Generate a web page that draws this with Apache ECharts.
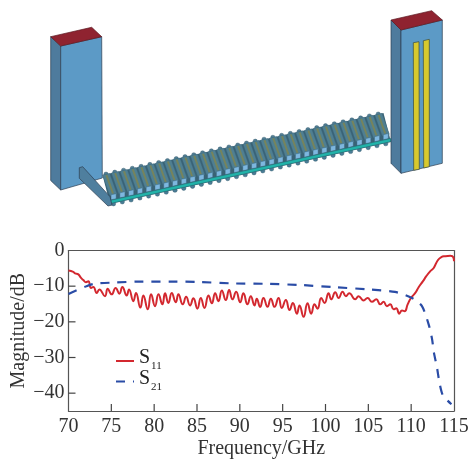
<!DOCTYPE html>
<html><head><meta charset="utf-8">
<style>html,body{margin:0;padding:0;background:#fff}#c{width:469px;height:459px}</style>
<script src="https://cdn.jsdelivr.net/npm/echarts@6/dist/echarts.min.js"></script>
</head><body><div id="c"></div>
<script>
const s11Freq = [70,70.56,70.76,71.15,71.46,71.73,72.04,72.32,72.63,72.9,73.29,73.6,74.26,74.57,75.04,75.5,75.94,76.29,76.79,77.07,77.57,77.88,78.39,78.74,79.25,79.64,80.1,80.5,80.96,81.27,81.66,82.05,82.52,82.83,83.34,83.73,84.19,84.58,85.05,85.44,85.87,86.34,86.73,87.12,87.5,87.9,88.36,88.75,89.14,89.57,90.04,90.42,90.89,91.28,91.71,91.98,92.37,92.76,93.23,93.62,94.05,94.52,94.9,95.37,95.8,96.19,96.66,96.97,97.44,97.9,98.33,98.72,99.07,99.5,99.89,100.36,100.67,101.14,101.53,102,102.38,102.77,103.47,103.86,104.45,104.91,105.42,105.93,106.39,106.78,107.17,107.56,107.95,108.26,108.61,108.93,109.24,109.59,109.98,110.48,110.87,111.38,111.77,112.24,112.63,113.09,113.48,113.99,114.57,114.92,115];
const s11Vals = [-5.6,-6,-6.4,-6.7,-7.7,-8.3,-8.9,-8.6,-10.5,-10.2,-11.9,-10.9,-12.8,-10.7,-12.3,-10.5,-12.1,-10.2,-12.6,-10.9,-14.2,-11.9,-16,-12.6,-16.5,-12.3,-15.6,-12.3,-15.1,-12,-14.7,-11.9,-14.5,-12.3,-15.1,-13,-15.4,-13.4,-16.3,-13.3,-16.1,-12.6,-14.8,-12,-14.2,-11.2,-13.9,-11.1,-13.7,-11.6,-14.5,-12,-15.1,-12.8,-15.4,-13.5,-15.8,-13.3,-15.8,-13.5,-15.8,-13.3,-16.1,-13.9,-16.7,-14.7,-17.7,-15.4,-18.6,-14.8,-17.7,-15.1,-16.3,-13.3,-14.7,-12,-13.7,-11.7,-13.3,-11.6,-12.8,-12,-13.7,-12.8,-14,-13.3,-14.4,-13.7,-15.1,-14.4,-15.6,-15.1,-16.5,-16.2,-17.7,-16.8,-17,-15.1,-13.3,-11.9,-10.3,-8.6,-7.2,-5.8,-4.9,-2.8,-1.9,-1.6,-1.5,-1.9,-3];
const s21Freq = [70,70.7,72.1,73.07,75.2,78.7,82,85,89.45,93.3,97.24,101.1,105,108.1,110.1,111.26,112.04,112.43,112.66,113,113.3,113.7,114.7];
const s21Vals = [-12.2,-11.4,-10,-9.3,-9,-8.7,-8.7,-8.8,-9.25,-9.35,-9.7,-10.3,-10.9,-11.6,-13.3,-15.6,-20.7,-24.7,-28.7,-32.6,-37,-40.6,-43.1];
const yTicks = [-10,-20,-30,-40];
const yLabels = [0,-10,-20,-30,-40];
const xTicks = [75,80,85,90,95,100,105,110];

const FONT = '"Liberation Serif", serif';
const pair = (xs, ys) => xs.map((x, i) => [x, ys[i]]);

// Non-data illustration of the device above the plot
function poly(points, fill, stroke, lw) {
  return { type: 'polygon', silent: true, shape: { points },
    style: { fill, stroke: stroke || 'none', lineWidth: lw === undefined ? 0.7 : lw } };
}
function dot(p, r, fill, stroke) {
  return { type: 'circle', silent: true, shape: { cx: p[0], cy: p[1], r }, style: { fill, stroke, lineWidth: .4 } };
}
function tower(top, front, left) {
  return [poly(left, '#4e7b9d', '#2c3e50'), poly(front, '#5c9ac6', '#2c3e50'), poly(top, '#8f2330', '#5c1a22')];
}
function comb() {
  const out = [], N = 32, F = [110, 196], U = [281, -62], V = [-7.5, -21];
  const P = (u, v, dy) => [F[0] + u * U[0] + v * V[0], F[1] + u * U[1] + v * V[1] + (dy || 0)];
  const q = (u0, u1, v0, v1) => [P(u0, v0), P(u1, v0), P(u1, v1), P(u0, v1)];
  const d = 1 / N;
  for (let i = 0; i < N; i++) {
    out.push(dot(P((i + .4) * d, 1), 2.2, '#527f95', '#2f5568'));
    out.push(dot(P((i + .4) * d, 0, 8.5), 2.2, '#4a7d96', '#2f5568'));
  }
  out.push(poly([P(0, 1), P(1, 1), P(1, 0, 8), P(0, 0, 8)], '#3a6376'));
  for (let i = 0; i < N; i++) {
    const a = i * d;
    out.push(poly(q(a, a + d * .82, 0, 1), '#4f7f92', '#3a6376', .3));
    out.push(poly(q(a + d * .3, a + d * .52, .08, .96), '#76845c'));
    out.push(poly([P(a + d * .12, 0, -1), P(a + d * .7, 0, -1), P(a + d * .7, 0, 4), P(a + d * .12, 0, 4)], '#7db7df', '#3a6376', .4));
  }
  out.push(poly([P(0, 0, 4.5), P(1, 0, 4.5), P(1, 0, 7.5), P(0, 0, 7.5)], '#22b3aa', '#1f6f72', .4));
  return out;
}
const picture = [
  ...tower([[50.7,36.7],[91.7,27.3],[101.7,36.7],[60.7,46]],
           [[60.7,46],[101.7,36.7],[102.3,178],[60.7,190]],
           [[50.7,36.7],[60.7,46],[60.7,190],[50.7,180.5]]),
  ...comb(),
  poly([[79.3,167.7],[82.7,166.7],[110,196.7],[112,205],[108,206],[79.3,178.3]], '#4f7f9e', '#2c3e50'),
  ...tower([[391,20],[431.7,10.7],[442.3,20],[401,30]],
           [[401,30],[442.3,20],[442.3,163.3],[401,173.3]],
           [[391,20],[401,30],[401,173.3],[391,163.3]]),
  poly([[413.3,42.7],[419,41.7],[419.3,169.3],[413.7,170.3]], '#d8c92e', '#3a4a40'),
  poly([[423.3,40.7],[429.3,39.3],[429.3,166.7],[423.7,168]], '#d8c92e', '#3a4a40')
];

const LINE = '#555';
const TICK_LEN = 7;
const axisLine = { show: true, onZero: false, lineStyle: { color: LINE, width: 1.2 } };
const frameAxis = { type: 'value', axisLine, axisTick: { show: false }, axisLabel: { show: false }, splitLine: { show: false } };
const chart = echarts.init(document.getElementById('c'));
chart.setOption({
  animation: false,
  backgroundColor: '#fff',
  grid: { left: 68.5, top: 250.5, width: 385.5, height: 160.5, outerBoundsMode: 'none', containLabel: false, show: false },
  legend: {
    orient: 'vertical', left: 115, top: 348, padding: 0, itemWidth: 18, itemHeight: 12, itemGap: -5.5,
    data: ['S11', 'S21'],
    itemStyle: { color: 'transparent', borderWidth: 0, opacity: 0 },
    formatter: n => '{s|S}{n|' + n.slice(1) + '}',
    textStyle: { color: '#222', fontFamily: FONT,
      rich: {
        s: { fontFamily: FONT, fontSize: 20, color: '#222', lineHeight: 26, verticalAlign: 'top' },
        n: { fontFamily: FONT, fontSize: 11, color: '#222', lineHeight: 26, verticalAlign: 'bottom', padding: [0, 0, 2, 1] }
      } }
  },
  xAxis: [{
    type: 'value', min: 70, max: 115, interval: 5, position: 'bottom',
    name: 'Frequency/GHz', nameLocation: 'middle', nameGap: 28, nameMoveOverlap: false,
    nameTextStyle: { fontFamily: FONT, fontSize: 20, color: '#333' },
    axisLine, axisTick: { show: false },
    axisLabel: { fontFamily: FONT, fontSize: 20, color: '#333', margin: 6, hideOverlap: false },
    splitLine: { show: false }
  }, { ...frameAxis, min: 70, max: 115, position: 'top' }],
  yAxis: [{
    type: 'value', min: -45, max: 0, position: 'left',
    name: 'Magnitude/dB', nameLocation: 'middle', nameGap: 40, nameRotate: 90, nameMoveOverlap: false,
    nameTextStyle: { fontFamily: FONT, fontSize: 20, color: '#333' },
    axisLine, axisTick: { show: false },
    axisLabel: { fontFamily: FONT, fontSize: 20, color: '#333', margin: 4, padding: [3, 0, 0, 0], customValues: yLabels,
      formatter: v => v < 0 ? '\u2212' + Math.abs(v) : String(v) },
    splitLine: { show: false }
  }, { ...frameAxis, min: -45, max: 0, position: 'right' }],
  series: [
    { name: 'S11', type: 'line', data: pair(s11Freq, s11Vals), showSymbol: false, symbol: 'none', smooth: 0.5,
      lineStyle: { color: '#d3282f', width: 2 }, itemStyle: { color: '#d3282f' } },
    { name: 'S21', type: 'line', data: pair(s21Freq, s21Vals), showSymbol: false, symbol: 'none', smooth: 0.25,
      lineStyle: { color: '#2a4ca6', width: 2.2, type: [9, 8] }, itemStyle: { color: '#2a4ca6' } }
  ]
});
// Inward ticks positioned through the axes' own scales
const toPx = v => chart.convertToPixel({ xAxisIndex: 0, yAxisIndex: 0 }, v);
const tickLine = (p, dx, dy) => ({ type: 'line', silent: true, z: 50,
  shape: { x1: p[0], y1: p[1], x2: p[0] + dx, y2: p[1] + dy },
  style: { stroke: '#444', lineWidth: 1.2, fill: 'none' } });
const ticks = [
  ...xTicks.map(v => tickLine(toPx([v, -45]), 0, -TICK_LEN)),
  ...yTicks.map(v => tickLine(toPx([70, v]), TICK_LEN, 0))
];
chart.setOption({ graphic: { elements: [...picture, ...ticks] } });
</script></body></html>
